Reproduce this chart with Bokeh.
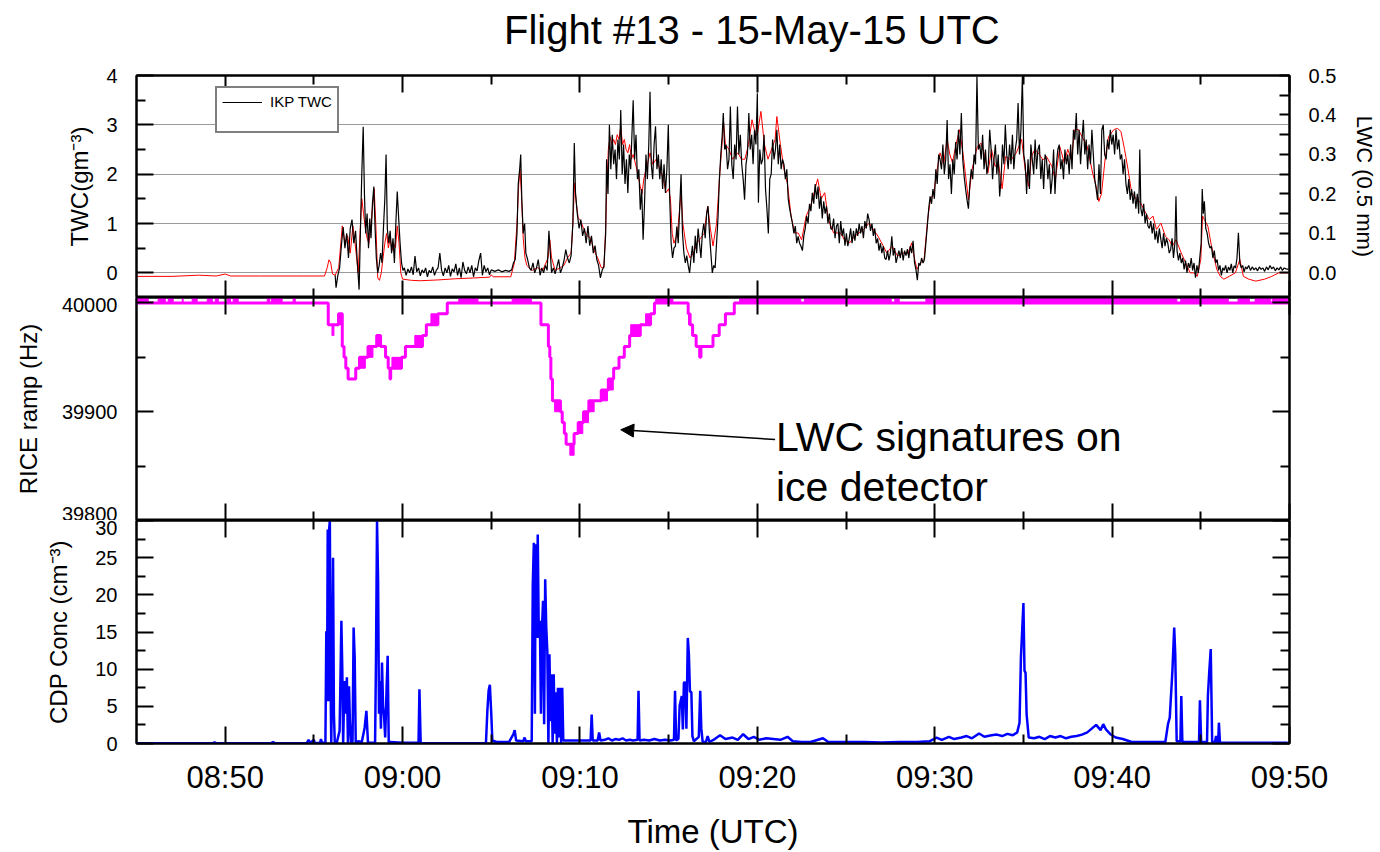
from bokeh.plotting import figure
from bokeh.models import (Range1d, LinearAxis, FixedTicker, Legend, LegendItem, Label,
                          Arrow, NormalHead)
from bokeh.layouts import column
from bokeh.embed import file_html
from bokeh.resources import INLINE

# ---------------- data (time in minutes after 00:00 UTC) ----------------
TITLE = "Flight #13 - 15-May-15 UTC"
TIME_TICKS = [530, 540, 550, 560, 570, 580, 590]
TIME_LABELS = ["08:50", "09:00", "09:10", "09:20", "09:30", "09:40", "09:50"]
TIME_MINOR = [535, 545, 555, 565, 575, 585]

twc_t = [536.20, 536.25, 536.35, 536.45, 536.55, 536.65, 536.75, 536.85, 536.95, 537.05, 537.15, 537.25, 537.35,
         537.45, 537.55, 537.62, 537.70, 537.78, 537.85, 537.92, 538.00, 538.08, 538.15, 538.22, 538.30, 538.38,
         538.45, 538.52, 538.60, 538.68, 538.76, 538.84, 538.92, 539.00, 539.07, 539.14, 539.22, 539.30, 539.38,
         539.46, 539.54, 539.62, 539.70, 539.78, 539.86, 539.94, 540.02, 540.10, 540.20, 540.30, 540.40, 540.50,
         540.60, 540.70, 540.80, 540.90, 541.00, 541.10, 541.20, 541.30, 541.40, 541.50, 541.60, 541.70, 541.80,
         541.90, 542.00, 542.10, 542.20, 542.30, 542.40, 542.50, 542.60, 542.70, 542.80, 542.90, 543.00, 543.10,
         543.20, 543.30, 543.40, 543.50, 543.60, 543.70, 543.80, 543.90, 544.00, 544.10, 544.20, 544.30, 544.40,
         544.50, 544.60, 544.70, 544.80, 544.90, 545.00, 545.20, 545.40, 545.60, 545.80, 546.00, 546.15, 546.25,
         546.35, 546.45, 546.52, 546.60, 546.66, 546.72, 546.80, 546.88, 546.95, 547.05, 547.15, 547.25, 547.35,
         547.45, 547.55, 547.65, 547.75, 547.85, 547.95, 548.05, 548.15, 548.25, 548.32, 548.40, 548.50, 548.60,
         548.70, 548.80, 548.90, 549.00, 549.10, 549.20, 549.30, 549.40, 549.50, 549.60, 549.68, 549.75, 549.85,
         549.95, 550.05, 550.15, 550.25, 550.35, 550.45, 550.55, 550.65, 550.75, 550.85, 550.95, 551.05, 551.15,
         551.25, 551.35, 551.45, 551.50, 551.58, 551.66, 551.74, 551.82, 551.90, 551.98, 552.06, 552.14, 552.22,
         552.30, 552.38, 552.46, 552.54, 552.62, 552.70, 552.78, 552.86, 552.94, 553.00, 553.08, 553.16, 553.24,
         553.32, 553.40, 553.48, 553.56, 553.64, 553.72, 553.80, 553.88, 553.95, 554.02, 554.10, 554.18, 554.26,
         554.34, 554.42, 554.50, 554.58, 554.66, 554.74, 554.82, 554.90, 554.98, 555.06, 555.14, 555.22, 555.30,
         555.38, 555.46, 555.54, 555.62, 555.70, 555.78, 555.86, 555.94, 556.02, 556.10, 556.18, 556.26, 556.34,
         556.42, 556.50, 556.58, 556.66, 556.74, 556.82, 556.90, 556.98, 557.06, 557.14, 557.22, 557.30, 557.38,
         557.46, 557.54, 557.62, 557.70, 557.78, 557.86, 557.94, 558.02, 558.08, 558.16, 558.24, 558.32, 558.40,
         558.48, 558.56, 558.64, 558.72, 558.80, 558.88, 558.96, 559.04, 559.12, 559.20, 559.28, 559.36, 559.44,
         559.52, 559.60, 559.68, 559.76, 559.84, 559.92, 560.00, 560.06, 560.14, 560.22, 560.30, 560.38, 560.46,
         560.54, 560.62, 560.70, 560.78, 560.86, 560.94, 561.02, 561.10, 561.18, 561.26, 561.34, 561.42, 561.50,
         561.58, 561.66, 561.74, 561.82, 561.90, 561.98, 562.06, 562.14, 562.22, 562.30, 562.38, 562.46, 562.54,
         562.62, 562.70, 562.78, 562.86, 562.94, 563.02, 563.10, 563.18, 563.26, 563.34, 563.42, 563.50, 563.58,
         563.66, 563.74, 563.82, 563.90, 563.98, 564.06, 564.14, 564.22, 564.30, 564.38, 564.46, 564.54, 564.62,
         564.70, 564.78, 564.86, 564.94, 565.02, 565.10, 565.18, 565.26, 565.34, 565.42, 565.50, 565.58, 565.66,
         565.74, 565.82, 565.90, 565.98, 566.06, 566.14, 566.22, 566.30, 566.38, 566.46, 566.54, 566.62, 566.70,
         566.78, 566.86, 566.94, 567.02, 567.10, 567.18, 567.26, 567.34, 567.42, 567.50, 567.58, 567.66, 567.74,
         567.82, 567.90, 567.98, 568.06, 568.14, 568.22, 568.30, 568.38, 568.46, 568.54, 568.62, 568.70, 568.78,
         568.86, 568.94, 569.02, 569.10, 569.18, 569.26, 569.34, 569.42, 569.50, 569.58, 569.66, 569.74, 569.82,
         569.90, 569.98, 570.06, 570.14, 570.22, 570.30, 570.38, 570.46, 570.54, 570.62, 570.70, 570.78, 570.86,
         570.94, 571.02, 571.10, 571.18, 571.26, 571.34, 571.42, 571.50, 571.58, 571.66, 571.74, 571.82, 571.90,
         571.98, 572.06, 572.14, 572.22, 572.30, 572.38, 572.46, 572.54, 572.62, 572.70, 572.78, 572.86, 572.94,
         573.02, 573.10, 573.18, 573.26, 573.34, 573.42, 573.50, 573.58, 573.66, 573.74, 573.82, 573.90, 573.98,
         574.06, 574.14, 574.22, 574.30, 574.38, 574.46, 574.54, 574.62, 574.70, 574.78, 574.86, 574.94, 575.02,
         575.10, 575.18, 575.26, 575.34, 575.42, 575.50, 575.58, 575.66, 575.74, 575.82, 575.90, 575.98, 576.06,
         576.14, 576.22, 576.30, 576.38, 576.46, 576.54, 576.62, 576.70, 576.78, 576.86, 576.94, 577.02, 577.10,
         577.18, 577.26, 577.34, 577.42, 577.50, 577.58, 577.66, 577.74, 577.82, 577.90, 577.98, 578.06, 578.14,
         578.22, 578.30, 578.38, 578.46, 578.54, 578.62, 578.70, 578.78, 578.86, 578.94, 579.02, 579.10, 579.18,
         579.26, 579.34, 579.42, 579.50, 579.58, 579.66, 579.74, 579.82, 579.90, 579.98, 580.06, 580.14, 580.22,
         580.30, 580.38, 580.46, 580.54, 580.62, 580.70, 580.78, 580.86, 580.94, 581.02, 581.10, 581.18, 581.26,
         581.34, 581.42, 581.50, 581.56, 581.62, 581.70, 581.78, 581.86, 581.94, 582.02, 582.10, 582.18, 582.26,
         582.34, 582.42, 582.50, 582.58, 582.66, 582.74, 582.82, 582.90, 582.98, 583.06, 583.14, 583.22, 583.30,
         583.38, 583.46, 583.54, 583.60, 583.66, 583.74, 583.82, 583.90, 583.98, 584.06, 584.14, 584.22, 584.30,
         584.38, 584.46, 584.54, 584.62, 584.70, 584.78, 584.86, 584.94, 585.02, 585.08, 585.14, 585.20, 585.28,
         585.36, 585.44, 585.52, 585.60, 585.68, 585.76, 585.84, 585.92, 586.00, 586.08, 586.16, 586.24, 586.32,
         586.40, 586.48, 586.56, 586.64, 586.72, 586.80, 586.88, 586.96, 587.04, 587.12, 587.20, 587.28, 587.36,
         587.44, 587.52, 587.60, 587.70, 587.80, 587.90, 588.00, 588.10, 588.20, 588.30, 588.40, 588.50, 588.60,
         588.70, 588.80, 588.90, 589.00, 589.10, 589.20, 589.30, 589.40, 589.50, 589.60, 589.70, 589.80, 589.95]
twc_v = [-0.05, -0.30, -0.05, 0.10, 0.55, 0.93, 0.50, 0.80, 0.30, 0.90, 1.08, 0.60, 0.85,
         0.20, -0.34, 0.80, 2.00, 2.96, 1.60, 0.80, 1.20, 0.50, 1.10, 0.70, 1.40, 1.75,
         0.90, 0.30, 0.00, 0.15, 0.40, 0.20, 0.90, 1.50, 2.40, 0.90, 0.60, 0.85, 0.40,
         0.70, 0.20, 1.00, 1.65, 1.10, 0.60, 0.20, 0.05, 0.10, -0.05, 0.08, 0.00, 0.12,
         -0.04, 0.34, 0.02, 0.10, -0.06, 0.06, 0.00, 0.10, -0.08, 0.05, 0.00, 0.12, -0.05,
         0.05, 0.10, 0.40, 0.05, -0.06, 0.10, 0.00, 0.15, -0.07, 0.08, 0.02, 0.18, -0.05,
         0.10, -0.10, 0.22, 0.05, -0.02, 0.12, 0.00, 0.15, -0.08, 0.10, 0.04, 0.25, 0.40,
         -0.05, 0.15, 0.02, 0.10, -0.04, 0.06, 0.03, 0.06, 0.02, 0.05, 0.03, 0.06, 0.20,
         0.27, 0.80, 1.80, 2.10, 2.40, 1.50, 0.80, 1.00, 0.40, 0.27, 0.10, 0.05, 0.20,
         0.00, 0.10, 0.27, -0.05, 0.10, 0.00, 0.15, 0.05, 0.85, 0.45, 0.00, 0.10, -0.02,
         0.12, 0.27, 0.00, 0.10, 0.25, 0.47, 0.30, 0.20, 0.35, 1.00, 2.63, 1.60, 1.20,
         0.90, 1.08, 0.75, 0.90, 0.60, 0.95, 0.55, 0.75, 0.40, 0.55, 0.27, 0.15, -0.10,
         0.05, 0.13, 0.80, 2.30, 1.60, 3.00, 2.10, 2.80, 2.20, 2.50, 1.90, 2.70, 2.30,
         3.30, 2.00, 2.60, 1.80, 2.30, 1.62, 2.40, 2.10, 2.90, 3.50, 2.30, 2.80, 1.90,
         2.10, 1.28, 1.70, 0.67, 1.40, 2.40, 1.90, 2.60, 3.67, 2.20, 1.90, 2.60, 2.97,
         2.10, 2.40, 1.90, 2.30, 1.70, 2.20, 1.62, 2.10, 3.00, 1.50, 0.60, 0.30, 0.50,
         0.54, 0.94, 0.60, 1.30, 2.00, 0.80, 0.40, 0.20, 0.35, 0.15, 0.00, 0.30, 0.55,
         0.20, 0.75, 0.40, 0.90, 0.60, 0.30, 0.80, 1.00, 0.70, 1.20, 1.35, 0.80, 0.40,
         0.00, 0.15, 0.10, 0.60, 1.10, 1.90, 2.40, 2.80, 3.24, 2.50, 2.60, 2.10, 2.30,
         3.37, 2.20, 1.90, 2.60, 2.30, 3.37, 2.40, 2.80, 2.20, 1.90, 1.48, 2.20, 2.40,
         3.24, 2.50, 2.80, 2.20, 2.90, 2.60, 3.64, 1.42, 2.50, 2.20, 2.30, 2.80, 1.70,
         1.30, 0.80, 1.90, 2.00, 2.70, 2.30, 2.50, 2.90, 2.20, 2.60, 2.10, 2.30, 2.20,
         1.90, 2.10, 1.50, 1.30, 1.15, 1.00, 0.80, 0.95, 0.60, 0.74, 0.60, 0.54, 0.45,
         0.75, 0.90, 1.15, 1.00, 1.40, 1.25, 1.62, 1.40, 1.80, 1.50, 1.75, 1.30, 1.55,
         1.10, 1.45, 1.20, 1.35, 1.00, 1.20, 0.90, 0.88, 1.10, 0.70, 0.95, 1.00, 0.60,
         1.05, 0.75, 0.90, 0.55, 0.80, 0.54, 0.70, 0.90, 0.60, 0.85, 0.65, 0.90, 0.75,
         1.00, 0.80, 0.95, 0.70, 1.05, 0.90, 1.20, 1.08, 0.85, 1.00, 0.75, 0.90, 0.60,
         0.70, 0.45, 0.60, 0.40, 0.54, 0.30, 0.27, 0.45, 0.25, 0.40, 0.74, 0.35, 0.50,
         0.20, 0.33, 0.45, 0.30, 0.50, 0.25, 0.45, 0.35, 0.48, 0.30, 0.54, 0.40, 0.65,
         0.20, 0.07, -0.15, 0.20, 0.15, 0.30, 0.20, 0.27, 0.60, 0.94, 1.30, 1.55, 1.40,
         1.70, 1.50, 2.10, 1.80, 2.40, 2.30, 2.10, 2.60, 2.00, 2.30, 3.10, 1.90, 2.20,
         1.60, 2.30, 2.00, 2.65, 2.30, 2.90, 2.40, 3.24, 2.30, 1.95, 1.70, 1.48, 1.30,
         1.80, 2.10, 1.90, 2.40, 2.20, 3.98, 2.50, 2.60, 2.30, 2.80, 2.10, 2.50, 2.00,
         2.20, 2.90, 2.50, 1.90, 2.30, 2.60, 2.00, 2.40, 1.55, 1.90, 2.60, 2.20, 3.00,
         2.40, 2.10, 2.60, 2.20, 2.80, 2.10, 2.50, 2.70, 3.44, 2.40, 2.90, 3.98, 2.40,
         2.20, 1.60, 2.30, 1.70, 2.60, 2.30, 2.00, 2.70, 2.10, 2.50, 2.60, 1.90, 2.30,
         1.70, 2.40, 2.30, 1.90, 2.20, 1.60, 1.90, 2.50, 1.60, 2.20, 2.50, 2.60, 2.10,
         2.30, 1.90, 2.50, 2.20, 2.40, 2.00, 2.60, 2.10, 2.90, 2.70, 3.24, 2.40, 2.90,
         2.20, 2.70, 3.10, 2.40, 2.70, 2.10, 2.60, 2.20, 2.90, 2.40, 1.90, 1.70, 1.48,
         2.20, 1.60, 2.90, 3.00, 2.40, 2.30, 2.70, 2.50, 2.90, 2.60, 2.80, 2.40, 2.90,
         2.50, 2.70, 2.30, 2.40, 2.00, 2.30, 1.80, 1.60, 1.90, 1.48, 1.70, 1.40, 1.65,
         1.30, 1.60, 1.20, 2.50, 1.30, 1.15, 1.40, 1.00, 1.20, 0.95, 0.90, 1.05, 0.80,
         1.00, 0.67, 0.85, 0.60, 0.90, 0.70, 0.50, 0.80, 0.54, 0.70, 0.60, 0.40, 0.47,
         0.70, 0.30, 0.60, 1.55, 0.45, 0.25, 0.40, 0.20, 0.30, 0.07, 0.25, 0.00, 0.20,
         0.10, 0.30, 0.05, 0.20, -0.10, 0.15, 0.00, 0.30, 0.60, 1.70, 1.20, 1.45, 0.90,
         0.80, 0.60, 0.50, 0.54, 0.30, 0.45, 0.20, 0.27, 0.05, 0.15, -0.05, 0.10, 0.05,
         0.15, 0.00, 0.12, 0.05, 0.18, 0.00, 0.14, 0.10, 0.30, 0.81, 0.20, 0.10, 0.15,
         0.02, 0.12, 0.08, 0.15, 0.05, 0.12, 0.06, 0.10, 0.04, 0.12, 0.07, 0.10, 0.03,
         0.12, 0.06, 0.15, 0.08, 0.12, 0.04, 0.10, 0.06, 0.12, 0.05, 0.10, 0.08, 0.07]

lwc_t = [525.0, 527.0, 528.5, 529.5, 530.0, 530.3, 532.0, 534.0, 535.6, 535.75, 535.85, 535.95, 536.05, 536.2,
         536.4, 536.6, 536.75, 536.9, 537.05, 537.2, 537.35, 537.5, 537.6, 537.7, 537.8, 537.9, 538.0, 538.1,
         538.2, 538.3, 538.4, 538.5, 538.6, 538.7, 538.8, 538.9, 539.0, 539.1, 539.2, 539.3, 539.4, 539.5,
         539.6, 539.7, 539.8, 539.9, 540.0, 540.5, 541.0, 542.0, 543.0, 544.0, 544.9, 545.0, 545.1, 546.1,
         546.3, 546.45, 546.55, 546.62, 546.7, 546.8, 546.9, 547.0, 547.3, 547.6, 547.9, 548.2, 548.3, 548.4,
         548.6, 548.9, 549.1, 549.3, 549.5, 549.6, 549.7, 549.8, 549.9, 550.0, 550.2, 550.4, 550.6, 550.8,
         551.0, 551.2, 551.35, 551.45, 551.5, 551.6, 551.7, 551.8, 551.9, 552.0, 552.1, 552.2, 552.3, 552.4,
         552.5, 552.6, 552.7, 552.8, 552.9, 553.0, 553.2, 553.4, 553.5, 553.6, 553.8, 553.95, 554.1, 554.3,
         554.5, 554.7, 554.85, 555.0, 555.1, 555.2, 555.3, 555.5, 555.7, 555.8, 556.0, 556.2, 556.4, 556.6,
         556.8, 557.0, 557.2, 557.35, 557.5, 557.7, 557.9, 558.1, 558.2, 558.4, 558.6, 558.9, 559.1, 559.3,
         559.5, 559.7, 559.9, 560.0, 560.2, 560.4, 560.6, 560.8, 561.0, 561.1, 561.3, 561.5, 561.7, 561.9,
         562.1, 562.3, 562.5, 562.75, 563.0, 563.2, 563.4, 563.6, 563.8, 564.0, 564.3, 564.7, 564.9, 565.2,
         565.5, 566.0, 566.3, 566.8, 567.1, 567.3, 567.6, 567.9, 568.2, 568.5, 568.7, 568.85, 569.0, 569.2,
         569.4, 569.6, 569.75, 569.95, 570.1, 570.3, 570.5, 570.7, 570.85, 571.0, 571.2, 571.4, 571.6, 571.9,
         572.1, 572.4, 572.6, 572.8, 573.0, 573.2, 573.4, 573.6, 573.8, 574.0, 574.3, 574.6, 574.9, 575.1,
         575.3, 575.45, 575.65, 575.9, 576.1, 576.3, 576.6, 576.8, 577.05, 577.3, 577.5, 577.7, 577.9, 578.1,
         578.3, 578.6, 578.9, 579.1, 579.25, 579.4, 579.6, 579.8, 580.1, 580.3, 580.5, 580.7, 580.9, 581.1,
         581.4, 581.6, 581.9, 582.1, 582.3, 582.5, 582.75, 583.0, 583.2, 583.4, 583.6, 583.9, 584.15, 584.4,
         584.6, 584.8, 585.0, 585.1, 585.2, 585.4, 585.6, 585.9, 586.1, 586.3, 586.6, 586.95, 587.2, 587.4,
         587.7, 588.1, 588.6, 589.0, 589.4, 589.9]
lwc_v = [-0.009, -0.009, -0.006, -0.008, -0.003, -0.008, -0.008, -0.008, -0.008, 0.013, 0.033, 0.025, -0.003, -0.006,
         0.013, 0.119, 0.075, 0.094, 0.05, 0.119, 0.063, 0.0, 0.1, 0.188, 0.15, 0.113, 0.088, 0.075,
         0.113, 0.163, 0.213, 0.113, -0.013, -0.019, 0.0, 0.038, 0.075, 0.1, 0.063, 0.088, 0.056, 0.075,
         0.063, 0.119, 0.075, 0.0, -0.016, -0.019, -0.02, -0.018, -0.015, -0.013, -0.011, -0.005, -0.01, -0.01,
         0.025, 0.125, 0.225, 0.263, 0.2, 0.088, 0.038, 0.019, 0.006, 0.013, 0.006, 0.038, 0.084, 0.038,
         0.006, 0.013, 0.019, 0.038, 0.05, 0.125, 0.228, 0.175, 0.138, 0.135, 0.113, 0.094, 0.088, 0.056,
         0.038, 0.013, 0.013, 0.113, 0.2, 0.313, 0.345, 0.325, 0.338, 0.325, 0.35, 0.338, 0.371, 0.325,
         0.338, 0.313, 0.304, 0.325, 0.288, 0.3, 0.263, 0.219, 0.2, 0.238, 0.275, 0.304, 0.275, 0.288,
         0.263, 0.238, 0.203, 0.213, 0.188, 0.1, 0.075, 0.1, 0.203, 0.125, 0.063, 0.038, 0.05, 0.075,
         0.088, 0.1, 0.169, 0.113, 0.068, 0.125, 0.263, 0.379, 0.325, 0.313, 0.288, 0.304, 0.288, 0.288,
         0.325, 0.388, 0.35, 0.35, 0.409, 0.325, 0.288, 0.313, 0.338, 0.396, 0.325, 0.263, 0.225, 0.144,
         0.101, 0.101, 0.084, 0.144, 0.169, 0.203, 0.238, 0.188, 0.203, 0.135, 0.101, 0.101, 0.084, 0.076,
         0.093, 0.11, 0.126, 0.093, 0.068, 0.05, 0.068, 0.043, 0.05, 0.05, 0.076, 0.038, 0.009, 0.025,
         0.034, 0.135, 0.185, 0.203, 0.253, 0.304, 0.275, 0.338, 0.3, 0.279, 0.325, 0.363, 0.3, 0.185,
         0.261, 0.32, 0.329, 0.3, 0.253, 0.313, 0.27, 0.275, 0.213, 0.295, 0.286, 0.304, 0.338, 0.261,
         0.219, 0.295, 0.313, 0.3, 0.286, 0.295, 0.27, 0.236, 0.32, 0.279, 0.313, 0.286, 0.363, 0.363,
         0.345, 0.32, 0.253, 0.219, 0.181, 0.2, 0.286, 0.345, 0.363, 0.366, 0.358, 0.313, 0.261, 0.203,
         0.185, 0.178, 0.151, 0.135, 0.144, 0.11, 0.126, 0.093, 0.084, 0.068, 0.084, 0.05, 0.025, 0.0,
         0.0, -0.009, 0.034, 0.144, 0.135, 0.118, 0.068, 0.009, -0.009, -0.016, -0.009, 0.0, 0.034, -0.009,
         -0.016, -0.021, -0.016, -0.009, 0.0, 0.0]

# RICE ramp frequency: stepped signal
rice_t = [525.00, 535.81, 536.39, 536.60, 536.70, 536.80, 536.93, 537.36, 537.57, 537.90, 538.05, 538.33,
          538.54, 538.76, 539.04, 539.19, 539.29, 539.33, 539.94, 540.16, 541.12, 541.34, 541.99, 542.52,
          547.80, 548.22, 548.30, 548.36, 548.45, 548.90, 549.00, 549.12, 549.22, 549.67, 549.90, 550.20,
          550.50, 551.20, 551.60, 551.90, 552.20, 552.50, 552.80, 553.40, 553.98, 554.20, 556.10, 556.20,
          556.35, 556.55, 556.75, 556.82, 557.50, 557.85, 558.20, 558.70, 590.00]
rice_v = [40000, 39980, 39990, 39960, 39950, 39940, 39930, 39940, 39950, 39950, 39960, 39960,
          39970, 39960, 39950, 39940, 39930, 39940, 39950, 39960, 39970, 39980, 39990, 40000,
          39980, 39960, 39950, 39930, 39910, 39900, 39890, 39880, 39870, 39880, 39890, 39900,
          39910, 39920, 39930, 39940, 39950, 39960, 39970, 39980, 39990, 40000, 39990, 39980,
          39970, 39960, 39950, 39960, 39970, 39980, 39990, 40000, 40000]
# intervals where the RICE signal toggles rapidly between two adjacent levels
tog_start = [525.00, 526.22, 526.79, 527.58, 528.14, 528.99, 529.44, 530.11, 530.45, 532.37, 532.60, 533.83,
             543.17, 546.18, 554.27, 559.00, 562.65, 567.75, 569.50, 583.87, 587.10, 588.06, 589.03,
             536.02, 536.39, 537.57, 538.05, 538.54, 539.40, 540.69, 541.60, 548.57, 549.43, 549.90, 550.20,
             550.50, 551.23, 551.60, 552.86, 553.70, 556.12]
tog_end = [525.66, 526.62, 527.07, 527.63, 528.42, 529.27, 529.61, 530.30, 530.73, 532.50, 533.21, 533.95,
           544.25, 547.26, 555.24, 562.45, 567.55, 568.00, 583.65, 586.55, 587.74, 588.92, 589.90,
           536.13, 536.60, 537.90, 538.33, 538.76, 539.94, 541.12, 541.99, 548.90, 549.67, 550.16, 550.48,
           550.80, 551.55, 551.88, 553.40, 553.98, 556.25]
tog_lo = [40000] * 23 + [39970, 39980, 39940, 39950, 39960, 39940, 39960, 39980, 39900, 39860, 39880, 39890,
                         39900, 39910, 39920, 39970, 39980, 39980]
tog_hi = [40004] * 23 + [39980, 39990, 39950, 39960, 39970, 39950, 39970, 39990, 39910, 39870, 39890, 39900,
                         39910, 39920, 39930, 39980, 39990, 39990]

cdp_t = [525.0, 529.3, 529.4, 529.5, 532.6, 532.7, 532.8, 534.6, 534.7, 534.8, 535.0, 535.05, 535.35, 535.4,
         535.45, 535.65, 535.70, 535.74, 535.78, 535.82, 535.86, 535.90, 535.94, 535.98, 536.02, 536.08, 536.13,
         536.18, 536.3, 536.45, 536.55, 536.6, 536.65, 536.72, 536.78, 536.86, 536.92, 536.98, 537.03, 537.1,
         537.18, 537.24, 537.3, 537.36, 537.5, 537.7, 537.86, 537.96, 538.05, 538.45, 538.5, 538.56, 538.62,
         538.67, 538.72, 538.78, 538.84, 538.9, 538.96, 539.02, 539.1, 539.16, 539.22, 539.3, 540.0, 540.9,
         540.95, 541.02, 544.7, 544.78, 544.85, 544.92, 545.0, 545.06, 545.3, 546.0, 546.25, 546.32, 546.4,
         546.8, 546.88, 546.95, 547.28, 547.34, 547.4, 547.46, 547.5, 547.56, 547.62, 547.68, 547.74, 547.8,
         547.86, 547.92, 547.98, 548.04, 548.1, 548.16, 548.22, 548.28, 548.34, 548.4, 548.46, 548.52, 548.58,
         548.64, 548.7, 548.76, 548.82, 548.88, 548.94, 549.0, 549.06, 549.3, 550.6, 550.66, 550.72, 551.0,
         551.08, 551.16, 551.4, 551.6, 551.8, 552.0, 552.2, 552.4, 552.6, 552.8, 553.0, 553.25, 553.3, 553.36,
         553.6, 553.9, 554.2, 554.5, 554.8, 555.1, 555.3, 555.36, 555.42, 555.55, 555.62, 555.68, 555.74,
         555.8, 555.86, 555.94, 556.0, 556.08, 556.14, 556.2, 556.28, 556.34, 556.42, 556.7, 556.78, 556.84,
         556.92, 557.1, 557.2, 557.3, 557.6, 557.9, 558.2, 558.6, 558.9, 559.2, 559.5, 559.8, 560.1, 560.5,
         560.9, 561.3, 561.7, 562.0, 562.5, 563.0, 563.7, 564.0, 565.0, 566.0, 567.0, 568.0, 569.0, 569.7,
         570.1, 570.4, 570.8, 571.1, 571.5, 571.8, 572.1, 572.5, 572.8, 573.2, 573.5, 573.8, 574.1, 574.4,
         574.65, 574.78, 574.86, 574.92, 575.0, 575.06, 575.12, 575.18, 575.3, 575.6, 575.9, 576.2, 576.5,
         576.8, 577.1, 577.4, 577.7, 578.0, 578.3, 578.6, 578.9, 579.1, 579.35, 579.5, 579.65, 579.9, 580.2,
         580.6, 581.1, 582.0, 583.0, 583.15, 583.25, 583.4, 583.5, 583.56, 583.64, 583.85, 583.9, 583.96,
         584.9, 584.95, 585.02, 585.35, 585.4, 585.48, 585.56, 585.64, 585.8, 585.86, 585.92, 585.98, 586.02,
         586.08, 589.9]
cdp_v = [0.05, 0.05, 0.15, 0.05, 0.05, 0.2, 0.05, 0.05, 0.5, 0.05, 0.5, 0.05, 0.1, 0.6,
         0.1, 0.1, 15.1, 5.7, 28.8, 5.7, 28.8, 30.0, 8.4, 0.0, 8.0, 25.0, 3.9,
         0.0, 0.2, 1.7, 16.5, 10.2, 0.0, 8.4, 4.0, 8.9, 0.0, 7.7, 3.0, 0.0,
         0.3, 15.6, 11.6, 0.0, 0.3, 0.2, 2.1, 4.4, 0.1, 0.1, 11.1, 29.9, 21.9,
         4.0, 8.4, 2.0, 10.9, 5.0, 3.5, 0.8, 7.5, 11.8, 0.0, 0.2, 0.1, 0.1,
         7.3, 0.05, 0.05, 4.4, 7.1, 7.9, 4.0, 0.4, 0.2, 0.2, 1.25, 1.8, 0.4,
         0.3, 0.8, 0.3, 0.3, 21.4, 27.0, 4.0, 26.8, 14.2, 28.1, 14.2, 16.5, 4.0,
         15.6, 19.2, 2.6, 22.1, 15.6, 12.4, 0.0, 12.0, 3.0, 9.3, 0.0, 9.3, 1.3,
         6.9, 0.0, 7.5, 0.8, 7.5, 0.0, 7.5, 0.4, 0.4, 0.4, 3.9, 0.4, 0.4,
         1.5, 0.4, 0.5, 0.7, 0.4, 0.6, 0.5, 0.7, 0.4, 0.5, 0.4, 0.5, 7.1, 0.4,
         0.5, 0.4, 0.6, 0.4, 0.5, 0.4, 0.5, 7.1, 0.4, 0.6, 5.1, 5.7, 6.4,
         1.9, 8.2, 8.2, 2.0, 14.2, 12.0, 7.0, 6.9, 1.0, 0.3, 0.9, 7.1, 2.0,
         0.2, 0.2, 1.0, 0.2, 0.6, 1.1, 0.6, 0.8, 0.5, 1.25, 0.6, 0.9, 0.5, 0.7,
         0.6, 0.5, 0.9, 0.3, 0.2, 0.2, 0.7, 0.2, 0.2, 0.2, 0.15, 0.2, 0.2, 0.3,
         0.8, 0.5, 0.9, 0.6, 0.8, 1.0, 0.7, 1.35, 0.9, 1.1, 1.2, 1.0, 1.3, 1.1,
         1.5, 2.8, 11.6, 14.7, 18.9, 9.8, 9.5, 3.9, 0.8, 0.7, 0.9, 0.6, 1.0,
         0.8, 1.0, 0.7, 0.9, 1.0, 1.2, 1.5, 2.1, 2.5, 1.8, 2.6, 1.9, 1.25, 0.8,
         0.6, 0.2, 0.2, 0.2, 2.6, 3.5, 9.8, 15.6, 12.0, 0.3, 0.3, 6.4, 0.2,
         0.2, 5.8, 0.2, 0.2, 6.4, 9.8, 12.7, 0.2, 0.2, 1.0, 0.2, 0.2, 2.8,
         0.1, 0.1]

# ---------------- styling helpers ----------------
FONT = "Liberation Sans"
FRAME_W = 1153
LEFT_B = 136
RIGHT_B = 90
x_range = Range1d(525, 590)


def make_fig(frame_h, top_b, bottom_b, y_range):
    p = figure(x_range=x_range, y_range=y_range, frame_width=FRAME_W, frame_height=frame_h,
               min_border_left=LEFT_B, min_border_right=RIGHT_B, min_border_top=top_b,
               min_border_bottom=bottom_b, output_backend="svg", toolbar_location=None,
               background_fill_color="white", border_fill_color="white")
    p.outline_line_color = "black"
    p.outline_line_width = 2
    p.xgrid.visible = False
    p.ygrid.visible = False
    return p


def style_axis(ax, ticks, minor, labels=True, major_in=17, minor_in=9, size="20px"):
    ax.ticker = FixedTicker(ticks=ticks, minor_ticks=minor)
    ax.major_tick_in = major_in
    ax.major_tick_out = 0
    ax.minor_tick_in = minor_in
    ax.minor_tick_out = 0
    ax.major_tick_line_width = 2
    ax.minor_tick_line_width = 2
    ax.major_tick_line_color = "black"
    ax.minor_tick_line_color = "black"
    ax.axis_line_width = 2
    ax.axis_line_color = "black"
    ax.major_label_text_font = FONT
    ax.major_label_text_color = "black"
    ax.axis_label_text_font = FONT
    ax.axis_label_text_font_style = "normal"
    ax.axis_label_text_color = "black"
    if labels:
        ax.major_label_text_font_size = size
    else:
        ax.major_label_text_font_size = "0px"
        ax.major_label_text_alpha = 0
        ax.major_label_standoff = 0


def mirror_x(p, loc):
    ax = LinearAxis()
    style_axis(ax, TIME_TICKS, TIME_MINOR, labels=False)
    p.add_layout(ax, loc)
    return ax


# ---------------- top panel: TWC / LWC ----------------
p1 = make_fig(222, 75, 0, Range1d(-0.5, 4))
p1.extra_y_ranges = {"lwc": Range1d(-0.0625, 0.5)}
p1.below[0].visible = False
top_axis = mirror_x(p1, "above")
# chart title carried by the top frame axis (non-breaking spaces shift it right of the frame centre)
top_axis.axis_label = "\u00a0" * 7 + TITLE
top_axis.axis_label_text_font_size = "40px"
top_axis.axis_label_standoff = 24
mirror_x(p1, "below")
ya = p1.left[0]
style_axis(ya, [0, 1, 2, 3, 4], [0.5, 1.5, 2.5, 3.5])
ya.axis_label = "TWC(gm\u207b\u00b3)"
ya.axis_label_text_font_size = "24px"
ya.major_label_standoff = 19
ya.axis_label_standoff = 10
ra = LinearAxis(y_range_name="lwc")
style_axis(ra, [0.0, 0.1, 0.2, 0.3, 0.4, 0.5], [0.05, 0.15, 0.25, 0.35, 0.45], major_in=10, minor_in=10)
ra.major_label_overrides = {0.0: "0.0", 0.1: "0.1", 0.2: "0.2", 0.3: "0.3", 0.4: "0.4", 0.5: "0.5"}
ra.major_label_standoff = 19
ra.axis_label = "LWC (0.5 mm)"
ra.axis_label_text_font_size = "22px"
ra.axis_label_standoff = 13
p1.add_layout(ra, "right")
p1.ygrid.visible = True
p1.ygrid.ticker = FixedTicker(ticks=[0, 1, 2, 3])
p1.ygrid.grid_line_color = "#9a9a9a"
p1.ygrid.grid_line_width = 1

r_lwc = p1.line(lwc_t, lwc_v, y_range_name="lwc", line_color="#ff0000", line_width=1)
r_twc = p1.line(twc_t, twc_v, line_color="black", line_width=1.2)
r_blank = p1.line(twc_t, twc_v, line_alpha=0)

legend = Legend(items=[LegendItem(label="IKP TWC", renderers=[r_twc]),
                       LegendItem(label=" ", renderers=[r_blank])],
                location=(79, 164), margin=0, padding=5, spacing=0,
                glyph_width=40, glyph_height=16, label_height=16, label_standoff=8,
                label_text_font=FONT, label_text_font_size="15px", label_text_color="black",
                border_line_color="black", border_line_width=2,
                background_fill_color="white", background_fill_alpha=1)
p1.add_layout(legend)

# ---------------- middle panel: RICE ----------------
p2 = make_fig(223, 0, 0, Range1d(39800, 40005))
p2.below[0].visible = False
mirror_x(p2, "above")
mirror_x(p2, "below")
yb = p2.left[0]
style_axis(yb, [39800, 39900, 40000], [39850, 39950])
yb.axis_label = "RICE ramp (Hz)"
yb.axis_label_text_font_size = "24px"
yb.major_label_standoff = 19
yb.axis_label_standoff = 17
rb = LinearAxis()
style_axis(rb, [39800, 39900, 40000], [39850, 39950], labels=False)
p2.add_layout(rb, "right")

p2.quad(left=tog_start, right=tog_end, bottom=tog_lo, top=tog_hi,
        fill_color="#ff00ff", line_color="#ff00ff", line_width=1)
p2.step(rice_t, rice_v, mode="after", line_color="#ff00ff", line_width=3)

p2.add_layout(Arrow(end=NormalHead(size=13, fill_color="black", line_color="black"),
                    x_start=561.0, y_start=39874.5, x_end=552.3, y_end=39883.4,
                    line_color="black", line_width=1.5))
p2.add_layout(Label(x=561.05, y=39877.0, text="LWC signatures on", text_font=FONT,
                    text_font_size="41px", text_color="black", text_baseline="alphabetic"))
p2.add_layout(Label(x=561.05, y=39831.0, text="ice detector", text_font=FONT,
                    text_font_size="41px", text_color="black", text_baseline="alphabetic"))

# ---------------- bottom panel: CDP ----------------
p3 = make_fig(223, 0, 107, Range1d(0, 30))
xa = p3.below[0]
mirror_x(p3, "above")
style_axis(xa, TIME_TICKS, TIME_MINOR, size="31px")
xa.major_label_overrides = dict(zip(TIME_TICKS, TIME_LABELS))
xa.major_label_standoff = 16
xa.axis_label = "Time (UTC)"
xa.axis_label_text_font_size = "33px"
xa.axis_label_standoff = 15
yc = p3.left[0]
style_axis(yc, [0, 5, 10, 15, 20, 25, 30], [2.5, 7.5, 12.5, 17.5, 22.5, 27.5])
yc.axis_label = "CDP Conc (cm\u207b\u00b3)"
yc.axis_label_text_font_size = "24px"
yc.major_label_standoff = 19
yc.axis_label_standoff = 20
rc = LinearAxis()
style_axis(rc, [0, 5, 10, 15, 20, 25, 30], [2.5, 7.5, 12.5, 17.5, 22.5, 27.5], labels=False)
p3.add_layout(rc, "right")

p3.line(cdp_t, cdp_v, line_color="#0000ff", line_width=2.5)

layout = column(p1, p2, p3, spacing=0)
open("out.html", "w").write(file_html(layout, INLINE))
